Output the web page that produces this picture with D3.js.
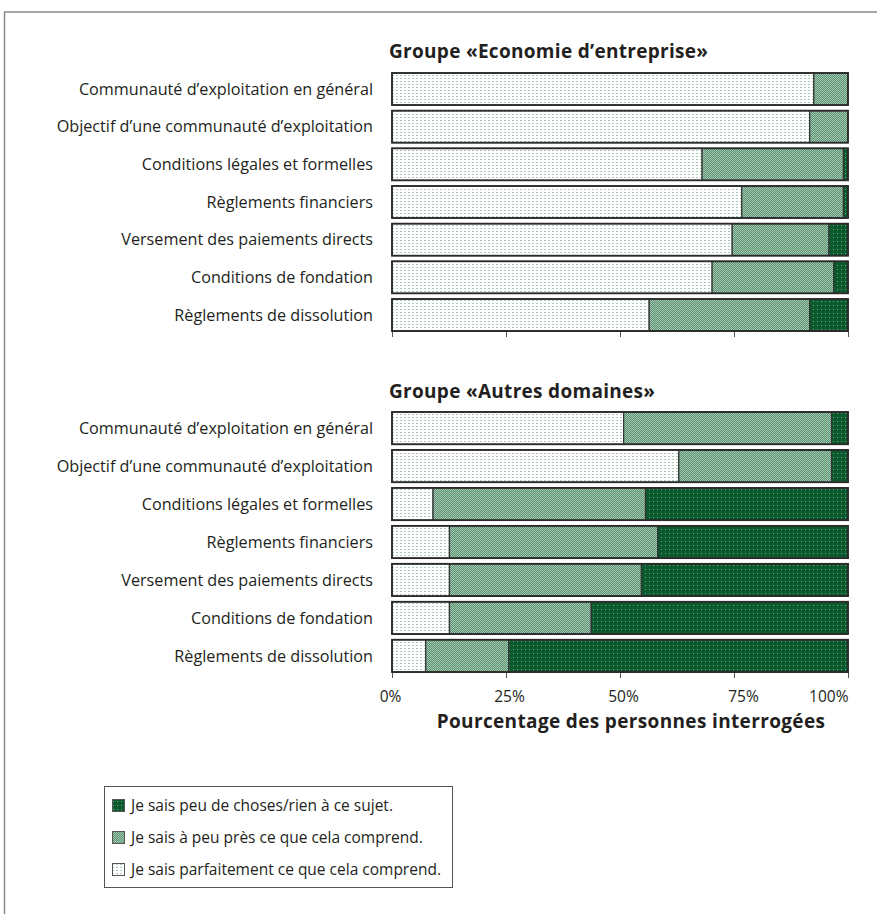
<!DOCTYPE html>
<html>
<head>
<meta charset="utf-8">
<script src="https://cdn.jsdelivr.net/npm/d3@7"></script>
<style>
  html, body { margin: 0; padding: 0; background: #fff; }
  svg { display: block; font-family: "Open Sans", "Noto Sans", sans-serif; }
</style>
</head>
<body>
<svg id="chart" width="877" height="914"></svg>
<script>
// Topics asked about (same list for both groups)
const topics = [
  "Communauté d’exploitation en général",
  "Objectif d’une communauté d’exploitation",
  "Conditions légales et formelles",
  "Règlements financiers",
  "Versement des paiements directs",
  "Conditions de fondation",
  "Règlements de dissolution"
];

// Answer categories, in stacking order (left to right)
const answers = ["parfait", "apeupres", "peu"];
const legendLabels = [
  "Je sais peu de choses/rien à ce sujet.",
  "Je sais à peu près ce que cela comprend.",
  "Je sais parfaitement ce que cela comprend."
];

// Group « Economie d'entreprise » — % per answer
const ecoParfait  = [92.5, 91.6, 68.0, 76.7, 74.6, 70.2, 56.4];
const ecoApeupres = [ 7.5,  8.4, 31.0, 22.3, 21.2, 26.7, 35.2];
const ecoPeu      = [ 0.0,  0.0,  1.0,  1.0,  4.2,  3.1,  8.4];

// Group « Autres domaines » — % per answer
const autParfait  = [50.8, 62.9,  9.0, 12.6, 12.6, 12.6,  7.4];
const autApeupres = [45.6, 33.5, 46.6, 45.7, 42.1, 31.1, 18.2];
const autPeu      = [ 3.6,  3.6, 44.4, 41.7, 45.3, 56.3, 74.4];

const tickValues = [0, 25, 50, 75, 100];
const tickLabels = ["0%", "25%", "50%", "75%", "100%"];

const groupTitles = ["Groupe «Economie d’entreprise»", "Groupe «Autres domaines»"];
const axisTitle = "Pourcentage des personnes interrogées";

const svg = d3.select("#chart");
const textColor = "#231f20";

// Fill patterns
const defs = svg.append("defs");
// light: white with small grey-green dashes
const pLight = defs.append("pattern").attr("id", "pat-parfait")
  .attr("patternUnits", "userSpaceOnUse").attr("width", 4).attr("height", 3);
pLight.append("rect").attr("width", 4).attr("height", 3).attr("fill", "#ffffff");
pLight.append("rect").attr("x", 0).attr("y", 0).attr("width", 2).attr("height", 1).attr("fill", "#a9c9b6");
// medium: checkerboard of two greens
const pMed = defs.append("pattern").attr("id", "pat-apeupres")
  .attr("patternUnits", "userSpaceOnUse").attr("width", 2).attr("height", 2);
pMed.append("rect").attr("width", 2).attr("height", 2).attr("fill", "#5a9272");
pMed.append("rect").attr("x", 0).attr("y", 0).attr("width", 1).attr("height", 1).attr("fill", "#a3c7b0");
pMed.append("rect").attr("x", 1).attr("y", 1).attr("width", 1).attr("height", 1).attr("fill", "#a3c7b0");
// dark: dark green with sparse light dots
const pDark = defs.append("pattern").attr("id", "pat-peu")
  .attr("patternUnits", "userSpaceOnUse").attr("width", 4).attr("height", 4);
pDark.append("rect").attr("width", 4).attr("height", 4).attr("fill", "#0b5a2d");
pDark.append("rect").attr("x", 1).attr("y", 1).attr("width", 1).attr("height", 1).attr("fill", "#6fa586");

const fillOf = { parfait: "url(#pat-parfait)", apeupres: "url(#pat-apeupres)", peu: "url(#pat-peu)" };

// Outer frame (top and left rule)
svg.append("line").attr("x1", 4).attr("x2", 877).attr("y1", 12).attr("y2", 12)
  .attr("stroke", "#8a8a8a").attr("stroke-width", 1.5);
svg.append("line").attr("x1", 4.5).attr("x2", 4.5).attr("y1", 12).attr("y2", 914)
  .attr("stroke", "#8a8a8a").attr("stroke-width", 1.5);

const x = d3.scaleLinear().domain([0, 100]).range([392, 848]);

function buildRows(p, a, q) {
  return topics.map((t, i) => ({ topic: t, parfait: p[i], apeupres: a[i], peu: q[i] }));
}

const groups = [
  { title: groupTitles[0], rows: buildRows(ecoParfait, ecoApeupres, ecoPeu), y0: 73, y1: 331, titleY: 58, labels: false },
  { title: groupTitles[1], rows: buildRows(autParfait, autApeupres, autPeu), y0: 412, y1: 672, titleY: 398, labels: true }
];

const stack = d3.stack().keys(answers);

// horizontal nudge of the tick labels; the last one ends flush with the axis
function tickShift(v) { return v === 100 ? 0 : v === 75 ? 9 : v === 0 ? -2 : 3; }

groups.forEach(g => {
  const y = d3.scaleBand().domain(topics).range([g.y0, g.y1]).paddingInner(0.15).paddingOuter(0);
  const gg = svg.append("g");

  gg.append("text").attr("x", 389).attr("y", g.titleY)
    .attr("font-size", 19).attr("font-weight", 700).attr("letter-spacing", 0.3).attr("fill", textColor)
    .text(g.title);

  // axis (ticks below the bars)
  const axis = d3.axisBottom(x).tickValues(tickValues).tickSize(6)
    .tickFormat((d, i) => g.labels ? tickLabels[i] : "");
  const ax = gg.append("g").attr("transform", `translate(0,${g.y1})`).call(axis);
  ax.select(".domain").attr("stroke", "#444");
  ax.selectAll(".tick line").attr("stroke", "#555").attr("stroke-width", 1);
  ax.selectAll(".tick text")
    .attr("font-size", 15.5).attr("fill", textColor)
    .attr("font-family", "'Open Sans', 'Noto Sans', sans-serif")
    .attr("y", 0).attr("dy", 30)
    .attr("x", d => tickShift(d))
    .attr("text-anchor", d => d === 100 ? "end" : "middle");

  // stacked segments
  const series = stack(g.rows);
  series.forEach(s => {
    gg.append("g").selectAll("rect").data(s).join("rect")
      .attr("x", d => x(d[0]))
      .attr("width", d => Math.max(0, x(d[1]) - x(d[0])))
      .attr("y", d => y(d.data.topic))
      .attr("height", y.bandwidth())
      .attr("fill", fillOf[s.key])
      .attr("stroke", d => (d[1] - d[0]) > 0 ? "#333" : "none")
      .attr("stroke-width", 1.2);
  });

  // bar outlines
  gg.append("g").selectAll("rect").data(g.rows).join("rect")
    .attr("x", x(0)).attr("width", x(100) - x(0))
    .attr("y", d => y(d.topic)).attr("height", y.bandwidth())
    .attr("fill", "none").attr("stroke", "#2b2b2b").attr("stroke-width", 1.8);

  // category labels
  gg.append("g").selectAll("text").data(g.rows).join("text")
    .attr("x", 373).attr("y", d => y(d.topic) + y.bandwidth() / 2)
    .attr("dy", "0.35em").attr("text-anchor", "end")
    .attr("font-size", 16.2).attr("fill", textColor)
    .text(d => d.topic);
});

// axis title
svg.append("text").attr("x", 631).attr("y", 728).attr("text-anchor", "middle")
  .attr("font-size", 19).attr("font-weight", 700).attr("letter-spacing", 0.35).attr("fill", textColor)
  .text(axisTitle);

// legend
const legend = svg.append("g");
legend.append("rect").attr("x", 104.5).attr("y", 786.5).attr("width", 348).attr("height", 101)
  .attr("fill", "#fff").attr("stroke", "#555").attr("stroke-width", 1);
const legendKeys = ["peu", "apeupres", "parfait"];
legendKeys.forEach((k, i) => {
  const cy = 806 + i * 32;
  legend.append("rect").attr("x", 112.5).attr("y", cy - 6.5).attr("width", 12).attr("height", 12)
    .attr("fill", fillOf[k]).attr("stroke", "#555").attr("stroke-width", 1);
  legend.append("text").attr("x", 131).attr("y", cy).attr("dy", "0.35em")
    .attr("font-size", 15.5).attr("fill", textColor).text(legendLabels[i]);
});
</script>
</body>
</html>
